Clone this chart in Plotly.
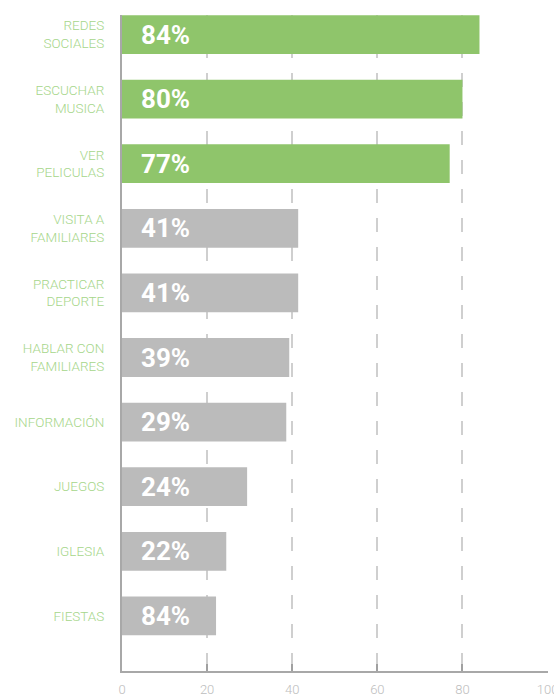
import plotly.graph_objects as go

categories = ["REDES<br>SOCIALES", "ESCUCHAR<br>MUSICA", "VER<br>PELICULAS",
              "VISITA A<br>FAMILIARES", "PRACTICAR<br>DEPORTE", "HABLAR CON<br>FAMILIARES",
              "INFORMACIÓN", "JUEGOS", "IGLESIA", "FIESTAS"]
values = [84, 80, 77, 41.4, 41.4, 39.3, 38.6, 29.4, 24.5, 22.1]
labels = ["84%", "80%", "77%", "41%", "41%", "39%", "29%", "24%", "22%", "84%"]
highlight = [True, True, True, False, False, False, False, False, False, False]
x_ticks = [0, 20, 40, 60, 80, 100]

GREEN = "#8fc56b"
GRAY = "#bbbbbb"
colors = [GREEN if h else GRAY for h in highlight]

fig = go.Figure()
fig.add_trace(go.Bar(
    x=values, y=categories, orientation="h",
    marker=dict(color=colors, line=dict(width=0)),
    hoverinfo="skip",
))

for cat, lab in zip(categories, labels):
    fig.add_annotation(
        x=0, y=cat, text=lab, showarrow=False, xanchor="left", yanchor="middle",
        xshift=17, font=dict(family="Roboto", size=26, color="white", weight=700),
    )

fig.update_layout(
    width=554, height=696,
    margin=dict(l=122, r=6, t=15, b=25),
    paper_bgcolor="white", plot_bgcolor="white",
    showlegend=False,
    bargap=0.4,
    xaxis=dict(
        range=[0, 100.1], tickvals=x_ticks, ticktext=[str(t) for t in x_ticks],
        showgrid=True, gridcolor="#cfcfcf", gridwidth=1.5, griddash="14px,15px",
        showline=True, linecolor="#a8a8a8", linewidth=2,
        ticks="inside", ticklen=7, tickwidth=2, tickcolor="#a0a0a0",
        ticklabeloverflow="allow", ticklabelstandoff=5,
        tickfont=dict(family="Roboto", size=13, color="#bdbdbd", weight=300),
        zeroline=False, fixedrange=True, automargin=False,
    ),
    yaxis=dict(
        type="category", categoryorder="array", categoryarray=categories,
        range=[9.853, -0.302],
        showgrid=False, zeroline=False,
        showline=True, linecolor="#a8a8a8", linewidth=2,
        ticks="", ticklabelstandoff=13,
        tickfont=dict(family="Roboto", size=13.5, color="#a6d68a", weight=300),
        fixedrange=True, automargin=False,
    ),
)

fig.write_html("out.html")
